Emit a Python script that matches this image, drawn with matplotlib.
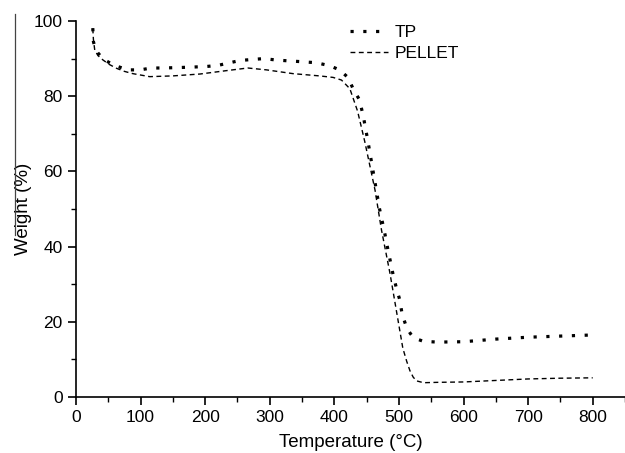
import matplotlib
matplotlib.use("Agg")
import matplotlib.pyplot as plt
from matplotlib.lines import Line2D
from matplotlib.ticker import MultipleLocator

plt.rcParams['font.family'] = ['Liberation Sans', 'DejaVu Sans']

tp_temp = [26, 27, 30, 34, 40, 47, 55, 63, 80, 99, 117, 135, 174, 202, 220, 238, 254, 275, 291, 311, 347,
           372, 393, 408, 421, 429, 439, 445, 452, 460, 470, 478, 482, 491, 496, 501, 505, 512, 518, 523,
           538, 560, 600, 650, 700, 750, 800]
tp_weight = [98.1, 94.5, 92.5, 91.5, 90.3, 89.4, 88.6, 88.0, 87.0, 87.0, 87.5, 87.5, 87.7, 87.9, 88.2, 88.9,
             89.5, 89.8, 90.0, 89.6, 89.2, 88.9, 88.1, 87.0, 85.0, 82.0, 79.0, 74.5, 68.0, 60.0, 50.0,
             43.6, 40.0, 32.5, 29.0, 26.0, 22.0, 18.4, 16.8, 15.7, 14.8, 14.6, 14.7, 15.4, 15.9, 16.2, 16.5]

pel_temp = [26, 27, 29, 34, 42, 52, 63, 75, 88, 114, 150, 192, 233, 266, 295, 336, 377, 398, 411, 424,
            436, 447, 463, 473, 486, 496, 506, 512, 517, 522, 527, 538, 560, 600, 650, 700, 750, 800]
pel_weight = [98.0, 95.0, 92.3, 90.8, 89.6, 88.4, 87.4, 86.6, 86.0, 85.2, 85.4, 85.9, 86.8, 87.5, 87.0,
              86.0, 85.4, 85.0, 84.3, 82.0, 76.0, 68.0, 55.0, 44.4, 33.0, 23.0, 13.0, 9.5, 7.0, 5.3,
              4.3, 3.8, 3.9, 4.0, 4.4, 4.8, 5.0, 5.1]

x_ticks = [0, 100, 200, 300, 400, 500, 600, 700, 800]
y_ticks = [0, 20, 40, 60, 80, 100]

fig = plt.figure(figsize=(6.25, 4.53), dpi=100)
ax = fig.add_axes([76/625, 1 - 397/453, (625-76)/625, (397-21)/453])

ax.plot(tp_temp, tp_weight, color='black', linestyle=(0, (1, 3)), linewidth=2.3,
        dash_capstyle='butt', label='TP')
ax.plot(pel_temp, pel_weight, color='black', linestyle=(0, (3.5, 2.5)), linewidth=1.0, label='PELLET')

ax.set_xlim(0, 850)
ax.set_ylim(0, 100)
ax.set_xticks(x_ticks)
ax.set_yticks(y_ticks)
ax.xaxis.set_minor_locator(MultipleLocator(50))
ax.yaxis.set_minor_locator(MultipleLocator(10))
ax.tick_params(which='major', direction='out', length=6, width=1.2, labelsize=12.5, colors='black')
ax.tick_params(which='minor', direction='out', length=3.5, width=1.0)
for s in ['top', 'right']:
    ax.spines[s].set_visible(False)
for s in ['left', 'bottom']:
    ax.spines[s].set_linewidth(1.2)

ax.set_xlabel('Temperature (°C)', fontsize=13.5, labelpad=6)
ax.set_ylabel('Weight (%)', fontsize=13.5, labelpad=1)

leg = ax.legend(loc='upper left', bbox_to_anchor=(0.47, 1.03), frameon=False, fontsize=12.5,
                handlelength=2.2, handletextpad=0.4, labelspacing=0.3)

fig.add_artist(Line2D([15/625, 15/625], [1 - 14/453, 1 - 235/453], color='#444444', linewidth=0.9))

fig.savefig('out.png', dpi=100)
